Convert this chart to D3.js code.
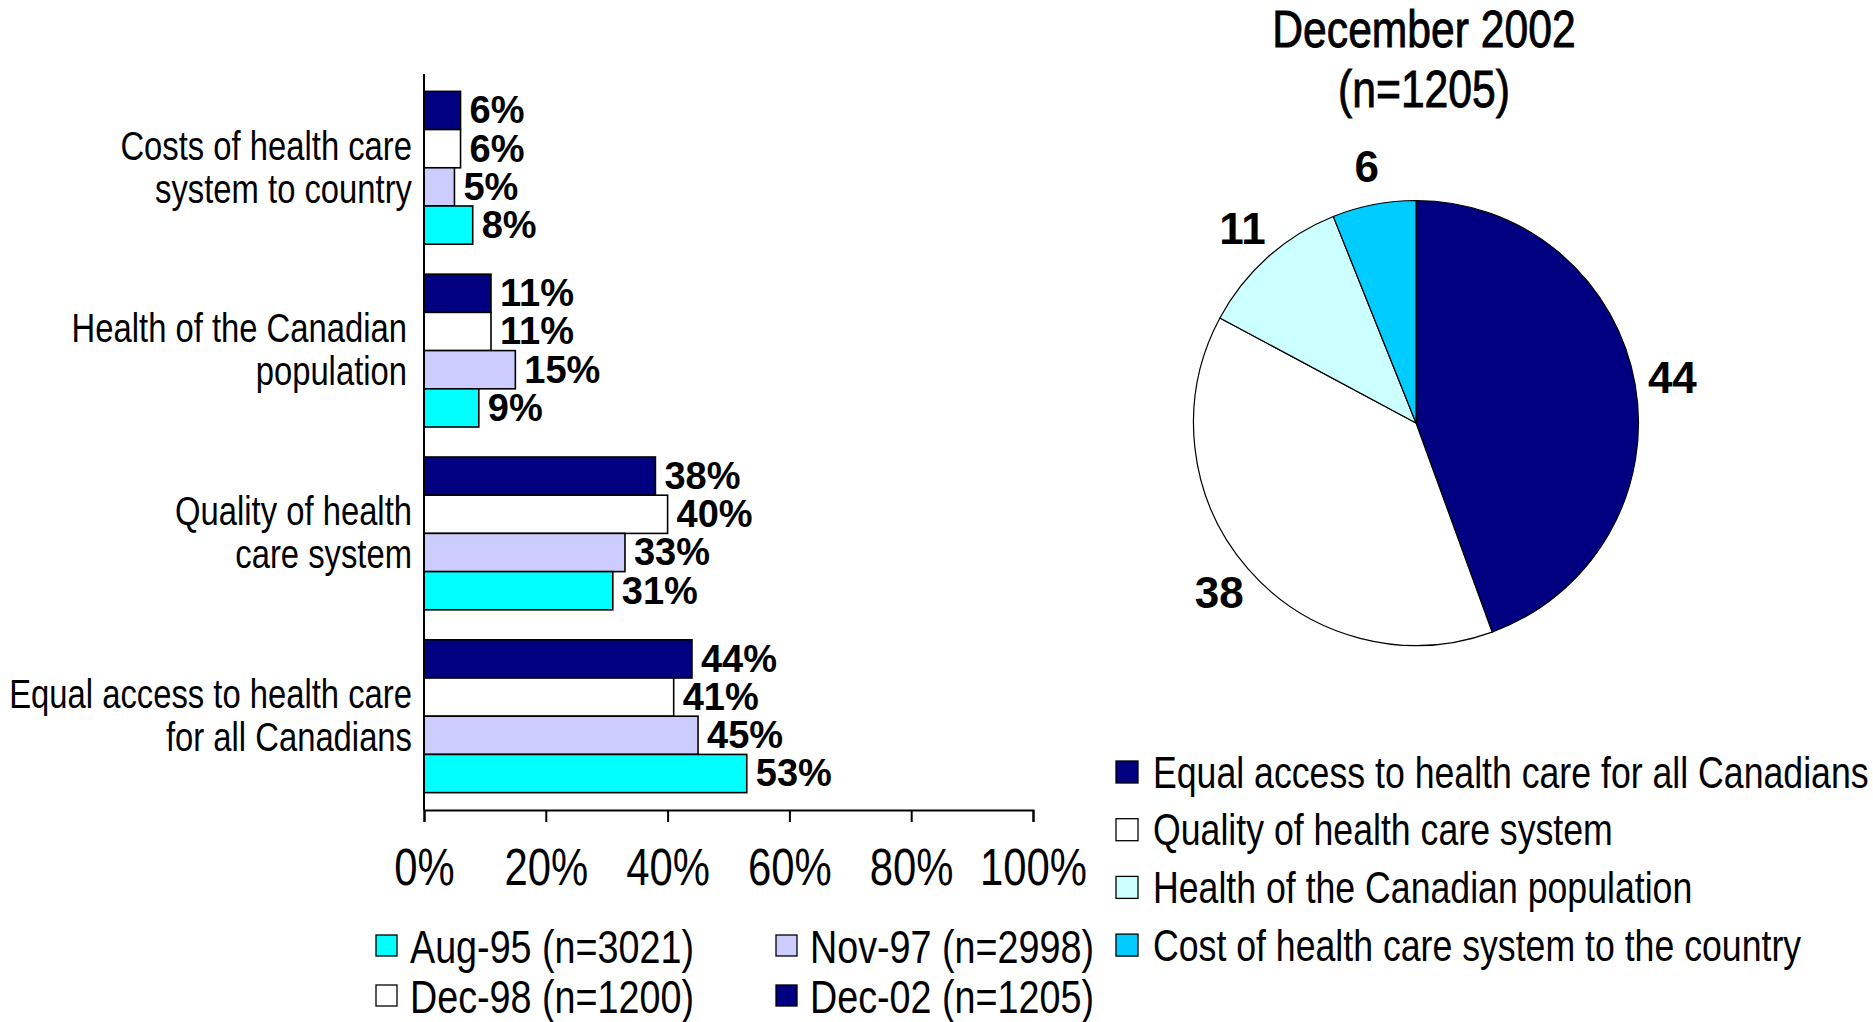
<!DOCTYPE html>
<html><head><meta charset="utf-8">
<script src="https://cdn.jsdelivr.net/npm/d3@7"></script>
<style>
body{margin:0;background:#fff;}
svg{display:block}
.narrow{font-family:"Liberation Sans",Arial,sans-serif;}
.boldf{font-family:"Liberation Sans",Arial,sans-serif;font-weight:bold;}
</style></head><body>
<svg id="chart" width="1873" height="1022"></svg>
<script>
// ---- data ----
const categories = ["Costs of health care system to country","Health of the Canadian population","Quality of health care system","Equal access to health care for all Canadians"];
const categoryLines = [["Costs of health care","system to country"],["Health of the Canadian","population"],["Quality of health","care system"],["Equal access to health care","for all Canadians"]];
const seriesKeys = ["Dec-02","Dec-98","Nov-97","Aug-95"];
const seriesLabels = ["Dec-02 (n=1205)","Dec-98 (n=1200)","Nov-97 (n=2998)","Aug-95 (n=3021)"];
const seriesColors = ["#000080","#FFFFFF","#CCCCFF","#00FFFF"];
const dec02 = [6,11,38,44];
const dec98 = [6,11,40,41];
const nov97 = [5,15,33,45];
const aug95 = [8,9,31,53];
const xTicks = [0,20,40,60,80,100];
const legendOrder = ["Aug-95","Nov-97","Dec-98","Dec-02"];

const pieTitle = ["December 2002","(n=1205)"];
const pieCategories = ["Equal access to health care for all Canadians","Quality of health care system","Health of the Canadian population","Cost of health care system to the country"];
const pieValues = [44,38,11,6];
const pieColors = ["#000080","#FFFFFF","#CCFFFF","#00CCFF"];

// ---- build ----
const NARROW = 0.82; // Arial Narrow ≈ Arial compressed horizontally
const seriesValues = [dec02,dec98,nov97,aug95];
const svg = d3.select("#chart");

function narrowText(g, tx, ty, txt, anchor, size){
  return g.append("text").attr("class","narrow")
    .attr("transform",`translate(${tx},${ty}) scale(${NARROW},1)`)
    .attr("text-anchor",anchor).attr("font-size",size).attr("dy","0.36em").text(txt);
}

const x = d3.scaleLinear().domain([0,100]).range([424,1033]);
const y = d3.scaleBand().domain(categories).range([74,810]).paddingInner(0.164).paddingOuter(0.095);
const ySub = d3.scaleBand().domain(seriesKeys).range([0,y.bandwidth()]);
const color = d3.scaleOrdinal().domain(seriesKeys).range(seriesColors);

const rows = [];
categories.forEach((c,ci)=>{
  seriesKeys.forEach((k,si)=>rows.push({cat:c,key:k,value:seriesValues[si][ci]}));
});

const gBars = svg.append("g");
gBars.selectAll("rect").data(rows).join("rect")
  .attr("x",x(0))
  .attr("y",d=>y(d.cat)+ySub(d.key))
  .attr("width",d=>x(d.value)-x(0))
  .attr("height",ySub.bandwidth())
  .attr("fill",d=>color(d.key))
  .attr("stroke","#000").attr("stroke-width",1.6);

gBars.selectAll("text").data(rows).join("text")
  .attr("class","boldf")
  .attr("x",d=>x(d.value)+9)
  .attr("y",d=>y(d.cat)+ySub(d.key)+ySub.bandwidth()/2)
  .attr("dy","0.34em")
  .attr("font-size",38)
  .text(d=>d.value+"%");

// y axis line
svg.append("line").attr("x1",x(0)).attr("x2",x(0)).attr("y1",y.range()[0]).attr("y2",y.range()[1])
  .attr("stroke","#000").attr("stroke-width",2);

// category labels
const gCat = svg.append("g");
const catRight = [412,407,412,412];
categories.forEach((c,ci)=>{
  const cy = y(c)+y.bandwidth()/2;
  categoryLines[ci].forEach((ln,li)=>{
    narrowText(gCat, catRight[ci], cy+(li-0.5)*43 - 1, ln, "end", 40);
  });
});

// x axis
const xAxis = d3.axisBottom(x).tickValues(xTicks).tickFormat(d=>d+"%").tickSize(12).tickPadding(27);
const gx = svg.append("g").attr("transform",`translate(0,${y.range()[1]})`).call(xAxis);
gx.select(".domain").attr("stroke","#000").attr("stroke-width",2);
gx.selectAll(".tick line").attr("stroke","#000").attr("stroke-width",2);
gx.selectAll(".tick text").attr("class","narrow").attr("font-size",51).attr("fill","#000")
  .attr("transform",`scale(${NARROW},1)`);

// bar legend
const legPos = [[376,946],[776,946],[376,996],[776,996]];
const gLeg = svg.append("g");
legendOrder.forEach((k,i)=>{
  const [lx,ly] = legPos[i];
  gLeg.append("rect").attr("x",lx).attr("y",ly-11).attr("width",21).attr("height",21)
    .attr("fill",color(k)).attr("stroke","#000").attr("stroke-width",1.3);
  narrowText(gLeg, lx+34, ly, seriesLabels[seriesKeys.indexOf(k)], "start", 46);
});

// ---- pie ----
const cx = 1416, cy = 423, R = 222.5;
const pie = d3.pie().sort(null).value(d=>d)(pieValues);
const arc = d3.arc().innerRadius(0).outerRadius(R);
const labelArc = d3.arc().innerRadius(R*1.17).outerRadius(R*1.17);
const gPie = svg.append("g").attr("transform",`translate(${cx},${cy})`);
gPie.selectAll("path").data(pie).join("path")
  .attr("d",arc).attr("fill",(d,i)=>pieColors[i]).attr("stroke","#000").attr("stroke-width",1.2);
gPie.selectAll("text").data(pie).join("text")
  .attr("class","boldf").attr("font-size",44).attr("text-anchor","middle")
  .attr("transform",d=>`translate(${labelArc.centroid(d)})`).attr("dy","0.34em")
  .text(d=>d.data);

// pie title
const gT = svg.append("g");
pieTitle.forEach((t,i)=>{
  narrowText(gT, 1424, 28+i*60, t, "middle", 52).attr("stroke","#000").attr("stroke-width",0.9);
});

// pie legend
const gPL = svg.append("g");
pieCategories.forEach((c,i)=>{
  const ly = 772 + i*57.7;
  gPL.append("rect").attr("x",1116).attr("y",ly-11).attr("width",22).attr("height",22)
    .attr("fill",pieColors[i]).attr("stroke","#000").attr("stroke-width",1.3);
  narrowText(gPL, 1153, ly, c, "start", 43.5);
});
</script>
</body></html>
